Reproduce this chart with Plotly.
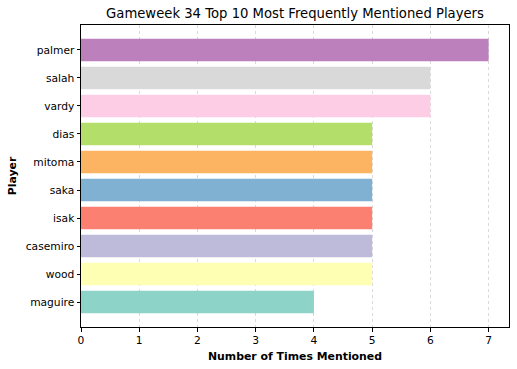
import plotly.graph_objects as go

players = ["maguire", "wood", "casemiro", "isak", "saka", "mitoma", "dias", "vardy", "salah", "palmer"]
mentions = [4, 5, 5, 5, 5, 5, 5, 6, 6, 7]
colors = ["#8dd3c7", "#ffffb3", "#bebada", "#fb8072", "#80b1d3", "#fdb462", "#b3de69", "#fccde5", "#d9d9d9", "#bc80bd"]

fig = go.Figure(go.Bar(
    x=mentions, y=list(range(len(players))), orientation="h",
    marker=dict(color=colors, line=dict(width=0)), width=0.8,
))

fig.update_layout(
    width=517, height=369,
    margin=dict(l=81, r=8, t=25, b=42),
    paper_bgcolor="white", plot_bgcolor="white",
    font=dict(family="DejaVu Sans", size=10.7, color="black"),
    title=dict(text="Gameweek 34 Top 10 Most Frequently Mentioned Players",
               x=0.5, xref="paper", xanchor="center", y=1 - 13 / 369, yref="container", yanchor="middle",
               font=dict(size=13.2)),
    showlegend=False,
)
fig.update_xaxes(
    range=[0, 7.35], tickmode="array", tickvals=list(range(8)),
    ticks="outside", ticklen=3.5, tickcolor="black",
    showline=True, linecolor="black", linewidth=1, mirror=True,
    showgrid=True, gridcolor="rgba(185,185,185,0.55)", griddash="dot", gridwidth=0.7,
    zeroline=False, layer="above traces", automargin=False,
    title=dict(text="<b>Number of Times Mentioned</b>", standoff=6, font=dict(size=10.9)),
)
fig.update_yaxes(
    range=[-0.89, 9.89], tickmode="array", tickvals=list(range(len(players))), ticktext=players,
    ticks="outside", ticklen=3.5, tickcolor="black",
    showline=True, linecolor="black", linewidth=1, mirror=True,
    showgrid=False, zeroline=False, automargin=False,
    title=dict(text="<b>Player</b>", standoff=6, font=dict(size=10.9)),
)
fig.write_html("out.html", post_script="document.body.style.margin='0';",
               config={"displayModeBar": False})
